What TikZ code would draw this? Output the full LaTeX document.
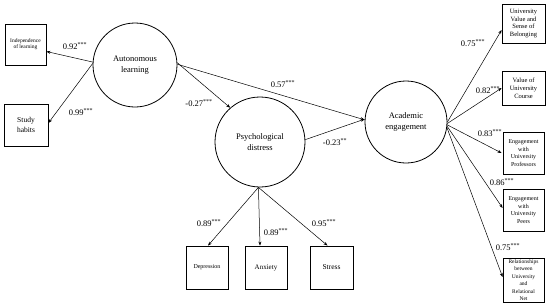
\documentclass[tikz,border=0pt]{standalone}
\usepackage{fontspec}
\setmainfont{Liberation Serif}
\usetikzlibrary{arrows.meta,calc}
\begin{document}
\begin{tikzpicture}[x=1pt,y=-1pt,
  lat/.style={circle,draw,line width=0.8pt,inner sep=0pt,align=center,font=\fontsize{8.5}{10.5}\selectfont},
  obs/.style={rectangle,draw,line width=0.8pt,inner sep=0pt,align=center},
  arr/.style={-{Stealth[length=4pt,width=3pt]},line width=0.5pt},
  coef/.style={font=\fontsize{8.5}{10}\selectfont,inner sep=0pt}]
\useasboundingbox (0,0) rectangle (550,306);
\fill[white] (0,0) rectangle (550,306);
% latent variables
\node[lat,minimum size=84pt] (auto) at (135,65) {Autonomous\\learning};
\node[lat,minimum size=90pt] (psy) at (260,142) {Psychological\\distress};
\node[lat,minimum size=82pt] (ae) at (406,122) {Academic\\engagement};
% observed indicators
\node[obs,minimum width=41pt,minimum height=41pt,font=\fontsize{5.5}{6.2}\selectfont] (ind) at (25.5,44.5) {Independence\\of learning};
\node[obs,minimum width=44pt,minimum height=42pt,font=\fontsize{7.5}{10}\selectfont] (sh) at (26,125) {Study\\habits};
\node[obs,minimum width=43pt,minimum height=39pt,font=\fontsize{6.5}{7.8}\selectfont] (b1) at (523.5,23.5) {University\\Value and\\Sense of\\Belonging};
\node[obs,minimum width=43pt,minimum height=34pt,font=\fontsize{6.5}{7.8}\selectfont] (b2) at (523.5,88) {Value of\\University\\Course};
\node[obs,minimum width=41pt,minimum height=42pt,font=\fontsize{6}{7.8}\selectfont] (b3) at (523.5,153) {Engagement\\with\\University\\Professors};
\node[obs,minimum width=41pt,minimum height=42pt,font=\fontsize{6}{7.8}\selectfont] (b4) at (523.5,210) {Engagement\\with\\University\\Peers};
\node[obs,minimum width=41pt,minimum height=44pt,font=\fontsize{5.5}{7.5}\selectfont] (b5) at (523.5,280) {Relationships\\between\\University\\and\\Relational\\Net};
\node[obs,minimum width=42pt,minimum height=43pt,font=\fontsize{6}{7}\selectfont] (dep) at (207,267.5) {Depression};
\node[obs,minimum width=42pt,minimum height=43pt,font=\fontsize{7}{8}\selectfont] (anx) at (266,267.5) {Anxiety};
\node[obs,minimum width=43pt,minimum height=43pt,font=\fontsize{7.5}{8}\selectfont] (str) at (331.5,267.5) {Stress};
% connectors
\draw[arr] (auto.176) -- ($(ind.east)+(0,7)$);
\draw[arr] (auto.178) -- ($(sh.east)+(0,-2)$);
\draw[arr] (auto.3) -- (psy.131);
\draw[arr] (auto.1) -- (ae.177);
\draw[arr] (psy.3) -- (ae.176);
\draw[arr] (ae.0) -- ($(b1.west)+(0,6.5)$);
\draw[arr] (ae.-2) -- (b2.west);
\draw[arr] (ae.-4) -- ($(b3.west)+(-1,0)$);
\draw[arr] (ae.-6) -- ($(b4.west)+(0,-2)$);
\draw[arr] (ae.-8) -- ($(b5.west)+(0,-3)$);
\draw[arr] (psy.-92) -- ($(dep.north)+(1,0)$);
\draw[arr] (psy.-92) -- ($(anx.north)+(-6,0)$);
\draw[arr] (psy.-92) -- ($(str.north)+(-4,0)$);
% coefficients
\node[coef] (c1) at (75,46) {0.92\textsuperscript{***}};
\node[coef] (c2) at (81,112) {0.99\textsuperscript{***}};
\node[coef] (c3) at (199,103) {-0.27\textsuperscript{***}};
\node[coef] (c4) at (283,84) {0.57\textsuperscript{***}};
\node[coef] (c5) at (335,142) {-0.23\textsuperscript{**}};
\node[coef] (c6) at (473,43) {0.75\textsuperscript{***}};
\node[coef] (c7) at (488,90) {0.82\textsuperscript{***}};
\node[coef] (c8) at (490,133) {0.83\textsuperscript{***}};
\node[coef] (c9) at (502,182) {0.86\textsuperscript{***}};
\node[coef] (c10) at (508,247) {0.75\textsuperscript{***}};
\node[coef] (c11) at (209,223) {0.89\textsuperscript{***}};
\node[coef] (c12) at (276,232) {0.89\textsuperscript{***}};
\node[coef] (c13) at (324,223) {0.95\textsuperscript{***}};
\end{tikzpicture}
\end{document}
